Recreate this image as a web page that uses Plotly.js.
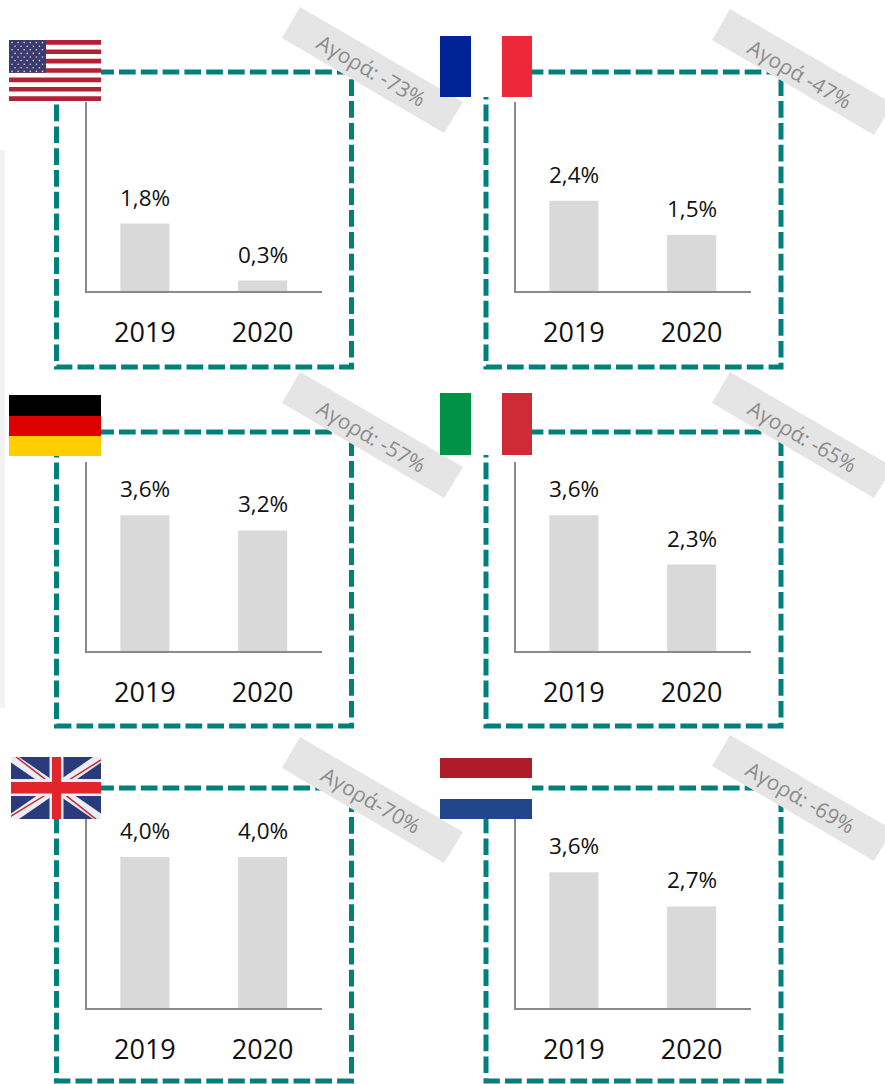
<!DOCTYPE html>
<html><head><meta charset="utf-8">
<script src="https://cdn.plot.ly/plotly-3.0.1.min.js"></script>
<style>html,body{margin:0;padding:0;background:#fff}#c{width:885px;height:1084px}</style>
</head><body><div id="c"></div>
<script>
// ---- data ----
const years = ['2019', '2020'];
const usa = [1.8, 0.3];
const france = [2.4, 1.5];
const germany = [3.6, 3.2];
const italy = [3.6, 2.3];
const uk = [4.0, 4.0];
const netherlands = [3.6, 2.7];
const marketLabels = ['Αγορά: -73%', 'Αγορά -47%', 'Αγορά: -57%', 'Αγορά: -65%', 'Αγορά-70%', 'Αγορά: -69%'];

// ---- layout helpers ----
const W = 885, H = 1084;
const px = x => x / W, py = y => 1 - y / H;
const panels = [
  {v: usa,         ax: 86.5, ay: 291,  box: [56.5, 72, 351.5, 367],   rx: 0,   ry: 0,   tx: 371, ty: 70},
  {v: france,      ax: 515.5, ay: 291, box: [486, 72, 781, 367],      rx: 430, ry: 2,   tx: 800, ty: 74},
  {v: germany,     ax: 86.5, ay: 651,  box: [56.5, 432, 351.5, 726],  rx: 0,   ry: 365, tx: 371, ty: 436},
  {v: italy,       ax: 515.5, ay: 651, box: [486, 432, 781, 726],     rx: 430, ry: 365, tx: 802, ty: 436},
  {v: uk,          ax: 86.5, ay: 1008, box: [56.5, 788, 351.5, 1081], rx: 0,   ry: 730, tx: 371, ty: 800},
  {v: netherlands, ax: 515.5, ay: 1008, box: [486, 788, 781, 1081],   rx: 430, ry: 728, tx: 800, ty: 797}
];
const TEAL = '#00807a', AXIS = '#8a8a8a', BAR = '#d9d9d9', RIBBON = '#e5e5e5';
const FONT = '"Open Sans", sans-serif';

const traces = [], annotations = [], shapes = [];
const layout = {
  width: W, height: H, margin: {l: 0, r: 0, t: 0, b: 0},
  paper_bgcolor: '#fff', plot_bgcolor: 'rgba(0,0,0,0)', showlegend: false,
  font: {family: FONT, color: '#111'}, annotations, shapes
};

function poly(pts, fill) {
  shapes.push({type: 'path', xref: 'paper', yref: 'paper', layer: 'above', fillcolor: fill, line: {width: 0},
    path: 'M' + pts.map(p => px(p[0]) + ',' + py(p[1])).join('L') + 'Z'});
}
function rect(x0, y0, x1, y1, fill) { poly([[x0, y0], [x1, y0], [x1, y1], [x0, y1]], fill); }

rect(0, 150, 5, 708, '#f2f2f2');

panels.forEach((p, i) => {
  const n = i === 0 ? '' : String(i + 1);
  traces.push({type: 'bar', x: years, y: p.v, xaxis: 'x' + n, yaxis: 'y' + n,
    width: 0.417, marker: {color: BAR}, hoverinfo: 'skip'});
  layout['xaxis' + n] = {domain: [px(p.ax), px(p.ax + 235.5)], type: 'category', range: [-0.496, 1.504], anchor: 'y' + n, fixedrange: true,
    showline: true, linecolor: AXIS, linewidth: 2, showgrid: false, zeroline: false,
    ticks: 'outside', ticklen: 17, tickcolor: 'rgba(0,0,0,0)', tickfont: {size: 27, family: FONT, color: '#111'}};
  layout['yaxis' + n] = {domain: [py(p.ay), py(p.ay - 189)], range: [0.0263, 5], anchor: 'x' + n, fixedrange: true,
    showline: true, linecolor: AXIS, linewidth: 2, showgrid: false, zeroline: false, ticks: '', showticklabels: false};
  p.v.forEach((val, k) => annotations.push({xref: 'x' + n, yref: 'y' + n, x: k, y: val, xanchor: 'center', yanchor: 'bottom',
    yshift: 9, showarrow: false, text: val.toFixed(1).replace('.', ',') + '%', font: {size: 22.5, family: FONT, color: '#111'}}));

  // dashed frame, drawn clockwise from a point on the top edge
  const [a, b, c, d] = p.box;
  shapes.push({type: 'path', xref: 'paper', yref: 'paper', layer: 'above', line: {color: TEAL, width: 5, dash: '16.7px,5.1px'},
    path: `M${px(a + 18.9)},${py(b)}L${px(c)},${py(b)}L${px(c)},${py(d)}L${px(a)},${py(d)}L${px(a)},${py(b)}Z`});
  // ribbon
  const q = [[300, 7], [463, 102], [444, 133], [282, 38]].map(o => [o[0] + p.rx, o[1] + p.ry]);
  poly(q, RIBBON);
  annotations.push({xref: 'paper', yref: 'paper', x: px(p.tx), y: py(p.ty), xanchor: 'center', yanchor: 'middle', showarrow: false, textangle: 30,
    text: marketLabels[i], font: {size: 21, family: FONT, color: '#8c8c8c'}});
});

// flags
// USA
(function () {
  const x0 = 9, x1 = 101, y0 = 40, y1 = 101, h = (y1 - y0) / 13;
  rect(x0, y0, x1, y1, '#ffffff');
  for (let s = 0; s < 13; s += 2) rect(x0, y0 + s * h, x1, y0 + (s + 1) * h, '#b22234');
  rect(x0, y0, 46, y0 + 7 * h, '#3c3b6e');
  for (let r = 0; r < 9; r++) {
    const cols = r % 2 ? 5 : 6;
    for (let k = 0; k < cols; k++) {
      const cx = x0 + 3 + (r % 2 ? 3 : 0) + k * 6.1, cy = y0 + 2.6 + r * 3.6, e = 0.8;
      shapes.push({type: 'circle', xref: 'paper', yref: 'paper', fillcolor: '#d8d8e6', line: {width: 0},
        x0: px(cx - e), x1: px(cx + e), y0: py(cy + e), y1: py(cy - e)});
    }
  }
})();
// France
rect(440, 36, 532, 97, '#ffffff');
rect(440, 36, 471, 97, '#002395');
rect(502, 36, 532, 97, '#ed2939');
// Germany
rect(9, 395, 101, 416, '#000000');
rect(9, 416, 101, 436, '#dd0000');
rect(9, 436, 101, 456, '#ffce00');
// Italy
rect(440, 393, 532, 455, '#ffffff');
rect(440, 393, 471, 455, '#009246');
rect(502, 393, 532, 455, '#ce2b37');
// UK
(function () {
  const x0 = 11, x1 = 101, y0 = 757, y1 = 819, cx = 56.5, cy = 788;
  rect(x0, y0, x1, y1, '#2a3a7a');
  const t = 8;
  poly([[x0, y0], [x0 + t, y0], [x1, y1 - t * .7], [x1, y1], [x1 - t, y1], [x0, y0 + t * .7]], '#e9eef4');
  poly([[x1, y0], [x1 - t, y0], [x0, y1 - t * .7], [x0, y1], [x0 + t, y1], [x1, y0 + t * .7]], '#e9eef4');
  poly([[x0 + 4, y0], [x0 + 6.5, y0], [cx, cy - 1], [cx - 2.5, cy - 1]], '#d4252c');
  poly([[x1, y0 + 2], [x1, y0 + 3.8], [cx + 2.5, cy - 1], [cx, cy - 1]], '#d4252c');
  poly([[x0, y1 - 2], [x0, y1 - 3.8], [cx - 2.5, cy + 1], [cx, cy + 1]], '#d4252c');
  poly([[x1 - 4, y1], [x1 - 6.5, y1], [cx, cy + 1], [cx + 2.5, cy + 1]], '#d4252c');
  rect(cx - 7, y0, cx + 7, y1, '#e9eef4');
  rect(x0, cy - 9, x1, cy + 8, '#e9eef4');
  rect(cx - 4.5, y0, cx + 4.5, y1, '#e2242b');
  rect(x0, cy - 6, x1, cy + 5.5, '#e2242b');
})();
// Netherlands
rect(440, 758, 532, 778, '#ae1c28');
rect(440, 778, 532, 799, '#ffffff');
rect(440, 799, 532, 819, '#21468b');

Plotly.newPlot('c', traces, layout, {displayModeBar: false, staticPlot: true});
</script></body></html>
